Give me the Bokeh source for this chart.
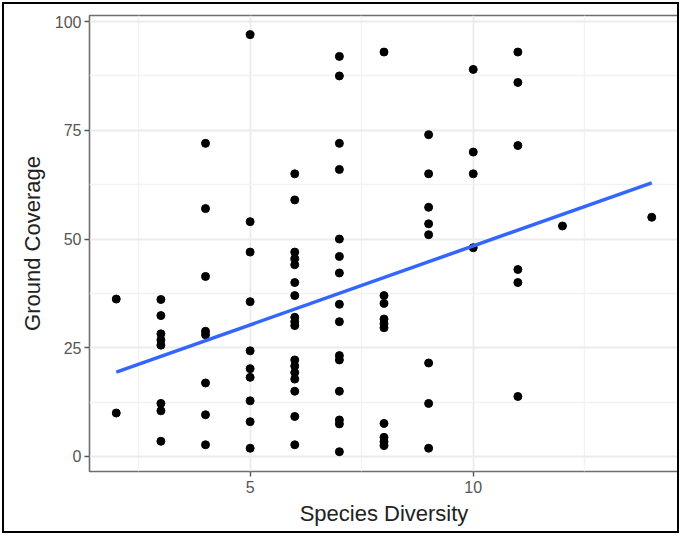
import numpy as np
from bokeh.plotting import figure
from bokeh.models import Range1d, FixedTicker, ColumnDataSource
from bokeh.embed import file_html
from bokeh.resources import INLINE

# Species diversity (x) and ground coverage (y) per plot, grouped by diversity level
div_2 = [36.2, 10.0]
div_3 = [36.1, 32.4, 28.2, 26.8, 25.6, 12.2, 10.5, 3.5]
div_4 = [72.0, 57.0, 41.4, 28.8, 28.0, 16.9, 9.6, 2.7]
div_5 = [97.0, 54.0, 47.0, 35.6, 24.3, 20.2, 18.2, 12.8, 8.0, 1.9]
div_6 = [65.0, 59.0, 47.0, 45.5, 44.1, 40.0, 37.0, 32.0, 31.0, 30.1,
         22.2, 20.8, 19.3, 17.8, 15.0, 9.2, 2.7]
div_7 = [92.0, 87.5, 72.0, 66.0, 50.0, 46.0, 42.2, 35.0, 31.0, 23.2,
         22.2, 15.0, 8.4, 7.5, 1.1]
div_8 = [93.0, 37.0, 35.2, 31.6, 30.5, 29.6, 7.6, 4.4, 3.4, 2.5]
div_9 = [74.0, 65.0, 57.3, 53.5, 51.0, 21.5, 12.2, 1.9]
div_10 = [89.0, 70.0, 65.0, 48.0]
div_11 = [93.0, 86.0, 71.5, 43.0, 40.0, 13.8]
div_12 = [53.0]
div_14 = [55.0]

groups = {2: div_2, 3: div_3, 4: div_4, 5: div_5, 6: div_6, 7: div_7,
          8: div_8, 9: div_9, 10: div_10, 11: div_11, 12: div_12, 14: div_14}

x_ticks = [5, 10]
y_ticks = [0, 25, 50, 75, 100]

xs, ys = [], []
for k, vals in groups.items():
    xs += [k] * len(vals)
    ys += vals
xs = np.array(xs, dtype=float)
ys = np.array(ys, dtype=float)

# least-squares trend line over the observed diversity range
slope, intercept = np.polyfit(xs, ys, 1)
fit_x = np.array([xs.min(), xs.max()])
fit_y = slope * fit_x + intercept

p = figure(width=677, height=531, output_backend="svg", toolbar_location=None,
           x_range=Range1d(1.4, 14.6), y_range=Range1d(-3.45, 101.4),
           min_border_left=85, min_border_right=3, min_border_top=11,
           min_border_bottom=64)
p.styles = {"margin": "2px", "border": "2px solid black"}

p.background_fill_color = "white"
p.border_fill_color = "white"
p.outline_line_color = "#6E6E6E"
p.outline_line_width = 1.6

p.xaxis.ticker = FixedTicker(ticks=x_ticks, minor_ticks=[2.5, 7.5, 12.5])
p.yaxis.ticker = FixedTicker(ticks=y_ticks, minor_ticks=[12.5, 37.5, 62.5, 87.5])

for g in (p.xgrid, p.ygrid):
    g.grid_line_color = "#EBEBEB"
    g.grid_line_width = 1.8
    g.minor_grid_line_color = "#F2F2F2"
    g.minor_grid_line_width = 1.3

for ax in (p.xaxis, p.yaxis):
    ax.axis_line_color = None
    ax.major_tick_line_color = "#555555"
    ax.major_tick_line_width = 1.4
    ax.major_tick_in = 0
    ax.major_tick_out = 5
    ax.minor_tick_line_color = None
    ax.major_label_text_font = "Liberation Sans"
    ax.major_label_text_font_size = "16px"
    ax.major_label_text_color = "#555555"
    ax.axis_label_text_font = "Liberation Sans"
    ax.axis_label_text_font_size = "22px"
    ax.axis_label_text_font_style = "normal"
    ax.axis_label_text_color = "#222222"

p.xaxis.axis_label = "Species Diversity"
p.yaxis.axis_label = "Ground Coverage"
p.xaxis.major_label_standoff = 4
p.xaxis.axis_label_standoff = 5
p.yaxis.major_label_standoff = 3
p.yaxis.axis_label_standoff = 7

src = ColumnDataSource(dict(x=xs, y=ys))
p.scatter("x", "y", source=src, size=8, color="black")
p.line(fit_x, fit_y, line_color="#3366FF", line_width=3.5)

open("out.html", "w").write(file_html(p, INLINE))
